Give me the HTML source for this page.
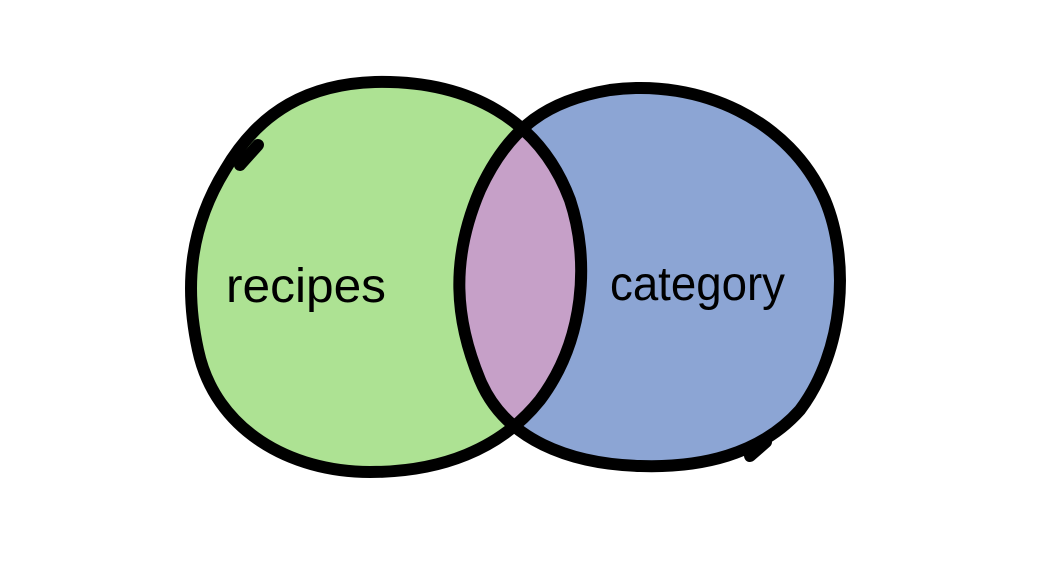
<!DOCTYPE html>
<html><head><style>html,body{margin:0;padding:0;background:#fff;}svg{display:block}</style></head>
<body>
<svg width="1063" height="573" viewBox="0 0 1063 573" xmlns="http://www.w3.org/2000/svg">
<defs>
<clipPath id="cl"><path d="M375 82 C470 80 540 120 570 200 C590 260 585 340 540 400 C500 450 440 472 370 472 C290 472 215 430 198 350 C185 290 188 230 225 170 C260 110 310 84 375 82 Z"/></clipPath>
</defs>
<path d="M375 82 C470 80 540 120 570 200 C590 260 585 340 540 400 C500 450 440 472 370 472 C290 472 215 430 198 350 C185 290 188 230 225 170 C260 110 310 84 375 82 Z" fill="#ade293"/>
<path d="M610 90 C700 78 790 120 825 200 C850 260 845 350 800 410 C760 455 700 468 640 466 C570 464 505 440 480 380 C455 320 450 260 480 190 C510 125 550 100 610 90 Z" fill="#8ca5d4"/>
<path d="M610 90 C700 78 790 120 825 200 C850 260 845 350 800 410 C760 455 700 468 640 466 C570 464 505 440 480 380 C455 320 450 260 480 190 C510 125 550 100 610 90 Z" fill="#c6a0c8" clip-path="url(#cl)"/>
<g fill="none" stroke="#000" stroke-width="12" stroke-linejoin="round" stroke-linecap="round">
<path d="M375 82 C470 80 540 120 570 200 C590 260 585 340 540 400 C500 450 440 472 370 472 C290 472 215 430 198 350 C185 290 188 230 225 170 C260 110 310 84 375 82 Z"/>
<path d="M610 90 C700 78 790 120 825 200 C850 260 845 350 800 410 C760 455 700 468 640 466 C570 464 505 440 480 380 C455 320 450 260 480 190 C510 125 550 100 610 90 Z"/>
<path d="M258 145 L240 165"/>
<path d="M766 442 L750 456"/>
</g>
<text x="226" y="302" font-family="Liberation Sans, sans-serif" font-size="48" textLength="160" lengthAdjust="spacingAndGlyphs" fill="#000">recipes</text>
<text x="610" y="300" font-family="Liberation Sans, sans-serif" font-size="48" textLength="175" lengthAdjust="spacingAndGlyphs" fill="#000">category</text>
</svg>
</body></html>
